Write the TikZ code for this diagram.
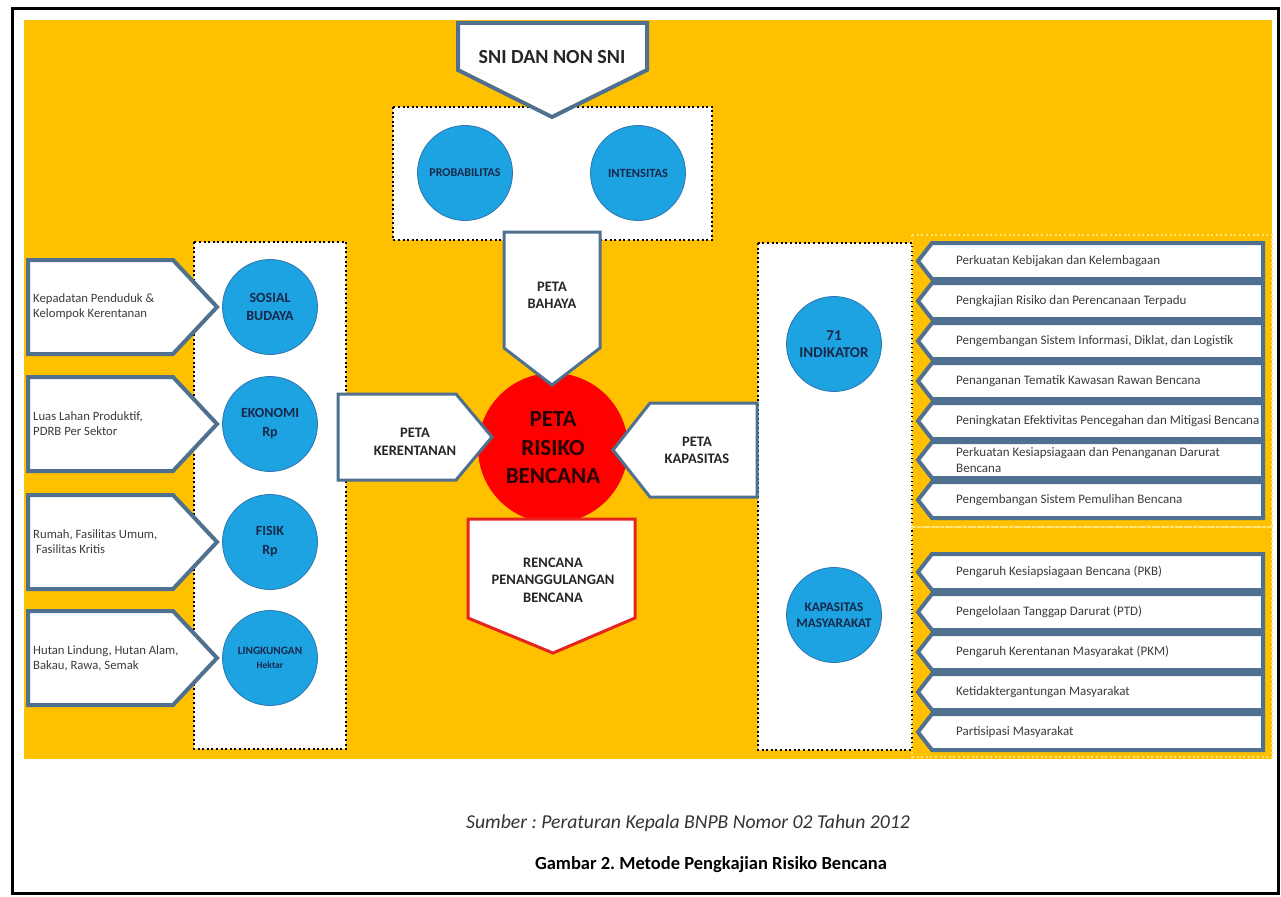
\documentclass[tikz,border=0pt]{standalone}
\usepackage{fontspec}
\setmainfont{Carlito}
\usetikzlibrary{positioning}
\frenchspacing

\definecolor{bgyellow}{HTML}{FFC000}
\definecolor{circblue}{HTML}{1DA2E2}
\definecolor{circline}{HTML}{2F74AE}
\definecolor{navytext}{HTML}{17294A}
\definecolor{shapeline}{HTML}{50708F}
\definecolor{itemgray}{HTML}{3C3C3C}
\definecolor{riskred}{HTML}{FF0000}
\definecolor{planred}{HTML}{E52420}
\definecolor{dotyellow}{HTML}{FFE27A}

\begin{document}
\begin{tikzpicture}[x=1pt, y=-1pt,
    panel/.style={draw=black, fill=white, line width=2pt, dash pattern=on 2pt off 2.6pt},
    grpline/.style={draw=dotyellow, line width=2pt, dash pattern=on 2pt off 2.6pt},
    ind/.style={circle, draw=circline, fill=circblue, line width=0.8pt, inner sep=0pt,
                minimum size=95pt, align=center, text=navytext},
    arw/.style={draw=shapeline, fill=white, line width=3pt, line join=miter},
    rowarw/.style={draw=shapeline, fill=white, line width=4pt, line join=miter},
    lab/.style={align=center, text=black!85, inner sep=0pt},
    item/.style={anchor=west, align=left, text=itemgray, inner sep=0pt,
                 font=\fontsize{12.7}{15}\selectfont},
    row/.style={anchor=west, align=left, text=itemgray, inner sep=0pt,
                font=\fontsize{13}{16}\selectfont}]

  \useasboundingbox (0,0) rectangle (1281,896);
  \draw[line width=3pt] (12,9) rectangle (1278,893);
  \fill[bgyellow] (24,20) rectangle (1272,759);

  % upper group
  \draw[panel] (393,107) rectangle (712,240);
  \draw[arw, line width=4pt] (458,23) -- (647,23) -- (647,70) -- (552,117) -- (458,70) -- cycle;
  \node[lab, font=\fontsize{20}{22}\selectfont\bfseries] (sni) at (552,57) {SNI DAN NON SNI};
  \node[ind, font=\fontsize{12}{13}\selectfont\bfseries] (prob) at (465,173) {PROBABILITAS};
  \node[ind, font=\fontsize{12.5}{13}\selectfont\bfseries] (inten) at (638,173) {INTENSITAS};

  % left group
  \draw[panel] (194,242) rectangle (346,749);
  \node[ind, font=\fontsize{14}{18}\selectfont\bfseries] (sosial) at (270,307) {SOSIAL\\BUDAYA};
  \node[ind, font=\fontsize{14}{19}\selectfont\bfseries] (ekonomi) at (270,424) {EKONOMI\\Rp};
  \node[ind, font=\fontsize{14}{19}\selectfont\bfseries] (fisik) at (270,542) {FISIK\\Rp};
  \node[ind, font=\fontsize{11.2}{14}\selectfont\bfseries] (lingk) at (270,658)
    {LINGKUNGAN\\{\fontsize{9.5}{10}\selectfont Hektar}};

  \draw[rowarw] (28,260) -- (173,260) -- (217,307) -- (173,354) -- (28,354) -- cycle;
  \draw[rowarw] (28,377) -- (173,377) -- (217,424) -- (173,471) -- (28,471) -- cycle;
  \draw[rowarw] (28,495) -- (173,495) -- (217,542) -- (173,589) -- (28,589) -- cycle;
  \draw[rowarw] (28,611) -- (173,611) -- (217,658) -- (173,705) -- (28,705) -- cycle;
  \node[item] (kepadatan) at (33,307) {Kepadatan Penduduk \&\\Kelompok Kerentanan};
  \node[item] (lahan) at (33,424) {Luas Lahan Produktif,\\PDRB Per Sektor};
  \node[item] (rumah) at (33,542) {Rumah, Fasilitas Umum,\\\ Fasilitas Kritis};
  \node[item] (hutan) at (33,658) {Hutan Lindung, Hutan Alam,\\Bakau, Rawa, Semak};

  % right group
  \draw[panel] (758,243) rectangle (912,750);
  \draw[grpline] (912,235) rectangle (1272,527);
  \draw[grpline] (912,527) rectangle (1272,757);
  \node[ind, font=\fontsize{15}{17}\selectfont\bfseries] (indikator) at (834,344) {71\\INDIKATOR};
  \node[ind, font=\fontsize{13.2}{16}\selectfont\bfseries] (kapmas) at (834,615) {KAPASITAS\\MASYARAKAT};

  \draw[rowarw] (1263,243) -- (932,243) -- (918,261) -- (932,279) -- (1263,279) -- cycle;
  \draw[rowarw] (1263,283) -- (932,283) -- (918,301) -- (932,319) -- (1263,319) -- cycle;
  \draw[rowarw] (1263,323) -- (932,323) -- (918,341) -- (932,359) -- (1263,359) -- cycle;
  \draw[rowarw] (1263,363) -- (932,363) -- (918,381) -- (932,399) -- (1263,399) -- cycle;
  \draw[rowarw] (1263,403) -- (932,403) -- (918,421) -- (932,439) -- (1263,439) -- cycle;
  \draw[rowarw] (1263,442) -- (932,442) -- (918,460) -- (932,478) -- (1263,478) -- cycle;
  \draw[rowarw] (1263,482) -- (932,482) -- (918,500) -- (932,518) -- (1263,518) -- cycle;
  \node[row] (r1) at (956,261) {Perkuatan Kebijakan dan Kelembagaan};
  \node[row] (r2) at (956,301) {Pengkajian Risiko dan Perencanaan Terpadu};
  \node[row] (r3) at (956,341) {Pengembangan Sistem Informasi, Diklat, dan Logistik};
  \node[row] (r4) at (956,381) {Penanganan Tematik Kawasan Rawan Bencana};
  \node[row] (r5) at (956,421) {Peningkatan Efektivitas Pencegahan dan Mitigasi Bencana};
  \node[row] (r6) at (956,460) {Perkuatan Kesiapsiagaan dan Penanganan Darurat\\Bencana};
  \node[row] (r7) at (956,500) {Pengembangan Sistem Pemulihan Bencana};

  \draw[rowarw] (1263,554) -- (932,554) -- (918,572) -- (932,590) -- (1263,590) -- cycle;
  \draw[rowarw] (1263,594) -- (932,594) -- (918,612) -- (932,630) -- (1263,630) -- cycle;
  \draw[rowarw] (1263,634) -- (932,634) -- (918,652) -- (932,670) -- (1263,670) -- cycle;
  \draw[rowarw] (1263,674) -- (932,674) -- (918,692) -- (932,710) -- (1263,710) -- cycle;
  \draw[rowarw] (1263,714) -- (932,714) -- (918,732) -- (932,750) -- (1263,750) -- cycle;
  \node[row] (m1) at (956,572) {Pengaruh Kesiapsiagaan Bencana (PKB)};
  \node[row] (m2) at (956,612) {Pengelolaan Tanggap Darurat (PTD)};
  \node[row] (m3) at (956,652) {Pengaruh Kerentanan Masyarakat (PKM)};
  \node[row] (m4) at (956,692) {Ketidaktergantungan Masyarakat};
  \node[row] (m5) at (956,732) {Partisipasi Masyarakat};

  % centre
  \node[circle, fill=riskred, minimum size=150pt, inner sep=0pt, align=center,
        text=black!85!red, font=\fontsize{23}{28.5}\selectfont\bfseries] (risiko) at (553,448)
    {PETA\\RISIKO\\BENCANA};
  \draw[arw] (504,232) -- (600,232) -- (600,348) -- (552,385) -- (504,348) -- cycle;
  \node[lab, font=\fontsize{14.5}{17}\selectfont\bfseries] (bahaya) at (552,295) {PETA\\BAHAYA};
  \draw[arw] (338,394) -- (456,394) -- (492,437) -- (456,480) -- (338,480) -- cycle;
  \node[lab, font=\fontsize{14.5}{18}\selectfont\bfseries] (rentan) at (415,442) {PETA\\KERENTANAN};
  \draw[arw] (757,403) -- (650,403) -- (613,450) -- (650,497) -- (757,497) -- cycle;
  \node[lab, font=\fontsize{14.5}{17}\selectfont\bfseries] (kapasitas) at (697,450) {PETA\\KAPASITAS};
  \draw[arw, draw=planred] (468,519) -- (635,519) -- (635,618) -- (553,653) -- (468,618) -- cycle;
  \node[lab, font=\fontsize{14.5}{17.5}\selectfont\bfseries] (rencana) at (553,580)
    {RENCANA\\PENANGGULANGAN\\BENCANA};

  \node[lab, text=black!80, font=\fontsize{19.7}{22}\selectfont\itshape] (sumber) at (688,823)
    {Sumber : Peraturan Kepala BNPB Nomor 02 Tahun 2012};
  \node[lab, text=black, font=\fontsize{18.5}{20}\selectfont\bfseries] (gambar) at (711,865)
    {Gambar 2. Metode Pengkajian Risiko Bencana};
\end{tikzpicture}
\end{document}
